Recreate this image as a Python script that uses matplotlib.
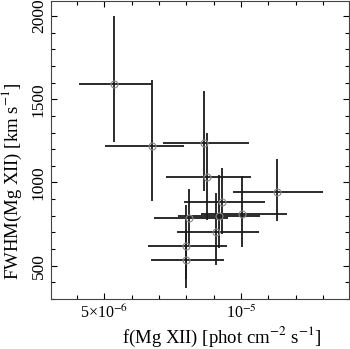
import matplotlib
matplotlib.use("Agg")
import matplotlib.pyplot as plt
from matplotlib.ticker import MultipleLocator, FixedLocator

# ==============================
# Data
# ==============================

flux = [5.34e-6, 6.75e-6, 8.66e-6, 8.74e-6, 11.30e-6, 9.32e-6, 10.03e-6,
        8.11e-6, 9.19e-6, 9.08e-6, 7.97e-6, 8.00e-6]
flux_lo = [4.08e-6, 5.01e-6, 7.14e-6, 7.26e-6, 9.71e-6, 7.90e-6, 8.52e-6,
           6.83e-6, 7.71e-6, 7.66e-6, 6.60e-6, 6.71e-6]
flux_hi = [6.75e-6, 7.90e-6, 10.29e-6, 10.35e-6, 13.0e-6, 10.87e-6, 11.70e-6,
           9.54e-6, 10.68e-6, 10.65e-6, 9.47e-6, 9.38e-6]

fwhm = [1592, 1222, 1236, 1030, 944, 884, 810, 785, 796, 704, 618, 533]
fwhm_lo = [1246, 890, 950, 776, 766, 692, 610, 626, 608, 506, 422, 368]
fwhm_hi = [2002, 1616, 1550, 1298, 1140, 1088, 1036, 962, 1046, 938, 866, 716]

x_ticks = [5e-6, 1e-5]
x_ticklabels = ["5×10$^{-6}$", "10$^{-5}$"]
y_ticks = [500, 1000, 1500, 2000]

# ==============================
# Plot
# ==============================

plt.rcParams["font.family"] = ["Liberation Serif", "DejaVu Serif"]
plt.rcParams["mathtext.fontset"] = "stix"

fig = plt.figure(figsize=(3.5, 3.49), dpi=100)
ax = fig.add_axes([51 / 350, 1 - 299 / 349, 298 / 350, 298 / 349])

xerr = [[f - lo for f, lo in zip(flux, flux_lo)],
        [hi - f for f, hi in zip(flux, flux_hi)]]
yerr = [[v - lo for v, lo in zip(fwhm, fwhm_lo)],
        [hi - v for v, hi in zip(fwhm, fwhm_hi)]]

ax.errorbar(flux, fwhm, xerr=xerr, yerr=yerr, fmt="none",
            ecolor="#1a1a1a", elinewidth=1.3, capsize=0, zorder=2)
ax.plot(flux, fwhm, "o", ms=5, mfc="none", mec="#888888", mew=0.8, zorder=3)

ax.set_xlim(3.05e-6, 1.395e-5)
ax.set_ylim(300, 2090)

ax.xaxis.set_major_locator(FixedLocator(x_ticks))
ax.set_xticklabels(x_ticklabels, fontsize=11.5)
ax.xaxis.set_minor_locator(MultipleLocator(1e-6))
ax.yaxis.set_major_locator(FixedLocator(y_ticks))
ax.yaxis.set_minor_locator(MultipleLocator(100))
ax.set_yticklabels([str(v) for v in y_ticks], fontsize=12.5,
                   rotation=90, va="center")

ax.tick_params(which="both", direction="in", top=True, right=True, width=0.8)
ax.tick_params(which="major", length=4.5, pad=4)
ax.tick_params(axis="y", which="major", pad=3)
ax.tick_params(which="minor", length=3)
for s in ax.spines.values():
    s.set_linewidth(0.8)
    s.set_color("#444444")

fig.text(222 / 350, 1 - 337 / 349, r"f(Mg XII) [phot cm$^{-2}$ s$^{-1}$]",
         ha="center", va="center", fontsize=13.5)
fig.text(12 / 350, 1 - 181 / 349, r"FWHM(Mg XII) [km s$^{-1}$]",
         ha="center", va="center", rotation=90, fontsize=13.5)

fig.savefig("out.png", dpi=100)
